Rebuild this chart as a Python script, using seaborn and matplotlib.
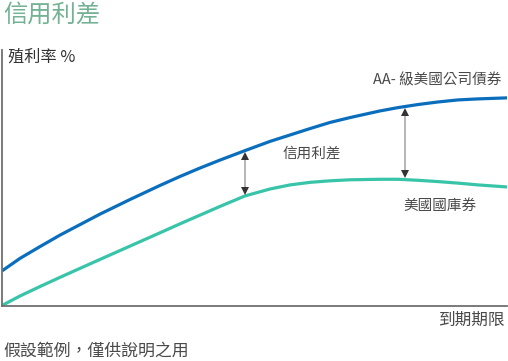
import numpy as np
import pandas as pd
import matplotlib
matplotlib.use("Agg")
import matplotlib.pyplot as plt
import seaborn as sns

# ---- data ----
maturity = [0, 3.56, 7.52, 11.49, 15.45, 19.41, 25.35, 31.29, 35.25, 39.21, 43.17,
            48.12, 53.07, 57.03, 60.99, 64.95, 68.91, 74.85, 78.42, 82.38, 86.34,
            90.30, 94.26, 100]
corp_yield = [1.37, 1.86, 2.32, 2.77, 3.18, 3.59, 4.16, 4.71, 5.06, 5.39, 5.70,
              6.07, 6.43, 6.68, 6.93, 7.17, 7.36, 7.62, 7.75, 7.87, 7.97,
              8.05, 8.09, 8.13]
treasury_yield = [0.02, 0.39, 0.76, 1.12, 1.47, 1.82, 2.34, 2.86, 3.21, 3.55, 3.89,
                  4.30, 4.57, 4.73, 4.83, 4.89, 4.93, 4.95, 4.95, 4.91, 4.86,
                  4.80, 4.73, 4.65]
spread_at = [48.1, 79.8]

series_names = ["AA- 級美國公司債券", "美國國庫券"]
title_text = "信用利差"
ylabel_text = "殖利率 %"
xlabel_text = "到期期限"
spread_text = "信用利差"
note_text = "假設範例，僅供說明之用"

df = pd.concat([
    pd.DataFrame({"x": maturity, "y": corp_yield, "s": series_names[0]}),
    pd.DataFrame({"x": maturity, "y": treasury_yield, "s": series_names[1]}),
])

sns.set_theme(style="white")
plt.rcParams["font.family"] = ["Noto Sans CJK TC", "DejaVu Sans"]

BLUE = "#0a6ebd"
TEAL = "#38c4a8"
GRAY_TXT = "#4a4a4a"

fig = plt.figure(figsize=(5.08, 3.61), dpi=100)
ax = fig.add_axes([2/508, 55/361, 505/508, 256/361])

sns.lineplot(data=df, x="x", y="y", hue="s", palette=[BLUE, TEAL],
             linewidth=2.3, legend=False, ax=ax)
for ln in ax.lines:
    ln.set_solid_capstyle("butt")
    ln.set_solid_joinstyle("round")

ax.set_xlim(0, 100)
ax.set_ylim(0, 10)
ax.set_xticks([])
ax.set_yticks([])
ax.set_xlabel("")
ax.set_ylabel("")
for side in ["top", "right"]:
    ax.spines[side].set_visible(False)
for side in ["left", "bottom"]:
    ax.spines[side].set_color("#707070")
    ax.spines[side].set_linewidth(1.3)

# spread arrows
for xa in spread_at:
    yt = np.interp(xa, maturity, corp_yield) - 0.06
    yb = np.interp(xa, maturity, treasury_yield) + 0.06
    ax.plot([xa, xa], [yt - 0.2, yb + 0.2], color="#b0b0b0", lw=1.3, zorder=3)
    ax.plot([xa], [yt - 0.15], marker="^", color="#333333", ms=6, zorder=4, mew=0)
    ax.plot([xa], [yb + 0.15], marker="v", color="#333333", ms=6, zorder=4, mew=0)

# labels
ax.text(86.1, 8.83, series_names[0], ha="center", va="center", fontsize=10.5, color=GRAY_TXT)
ax.text(86.7, 3.9, series_names[1], ha="center", va="center", fontsize=10.5, color=GRAY_TXT)
ax.text(61.4, 5.94, spread_text, ha="center", va="center", fontsize=10.5, color=GRAY_TXT)

fig.text(3/508, 1 - 15/361, title_text, ha="left", va="center", fontsize=17.5, color="#74b294")
fig.text(8/508, 1 - 57/361, ylabel_text, ha="left", va="center", fontsize=11.7, color="#333333")
fig.text(505/508, 1 - 320/361, xlabel_text, ha="right", va="center", fontsize=12, color=GRAY_TXT)
fig.text(3/508, 1 - 351/361, note_text, ha="left", va="center", fontsize=12.2, color=GRAY_TXT)

fig.savefig("out.png", dpi=100)
